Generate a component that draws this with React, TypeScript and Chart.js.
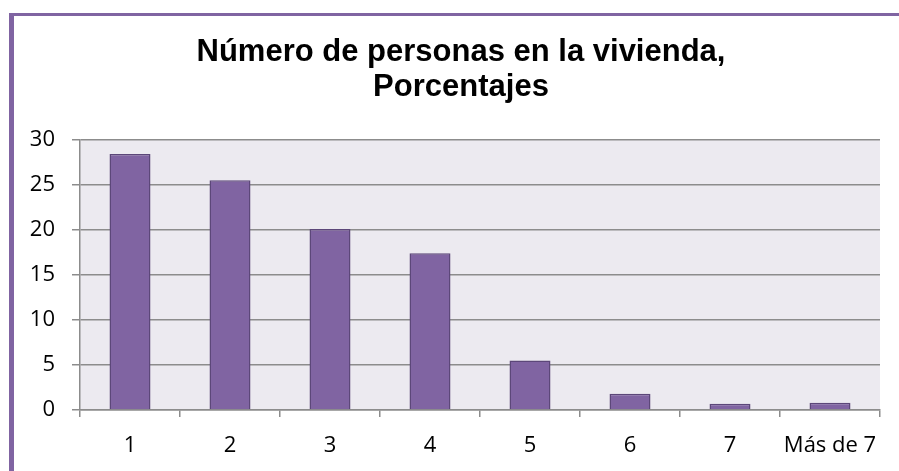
import React, { useEffect, useRef } from "react";
import { Chart, registerables } from "chart.js";

Chart.register(...registerables);

const categories: string[] = ["1", "2", "3", "4", "5", "6", "7", "Más de 7"];
const percentages: number[] = [28.4, 25.5, 20.1, 17.4, 5.5, 1.8, 0.7, 0.8];
const titleLines: string[] = ["Número de personas en la vivienda,", "Porcentajes"];
const yMin = 0;
const yMax = 30;
const yStep = 5;

const plotBg = {
  id: "plotBg",
  beforeDraw(chart: any) {
    const { ctx, chartArea } = chart;
    if (!chartArea) return;
    ctx.save();
    ctx.fillStyle = "#ECEAF0";
    ctx.fillRect(chartArea.left, chartArea.top, chartArea.right - chartArea.left, chartArea.bottom - chartArea.top);
    ctx.restore();
  },
};

export default function App() {
  const ref = useRef<HTMLCanvasElement | null>(null);

  useEffect(() => {
    if (!ref.current) return;
    const chart = new Chart(ref.current, {
      type: "bar",
      data: {
        labels: categories,
        datasets: [
          {
            data: percentages,
            backgroundColor: "#8064A2",
            borderColor: "#5C4779",
            borderWidth: 1.5,
            barPercentage: 0.41,
            categoryPercentage: 1,
            yAxisID: "y",
          },
        ],
      },
      options: {
        animation: false,
        responsive: false,
        layout: { padding: { left: 23, right: 0, top: 0, bottom: 0 } },
        plugins: {
          legend: { display: false },
          tooltip: { enabled: false },
          title: {
            display: true,
            text: titleLines,
            color: "#000000",
            font: { family: "'Liberation Sans', Arial, sans-serif", size: 31, weight: "bold", lineHeight: 1.129 },
            padding: { top: 35.1, bottom: 34.6 },
          },
        },
        scales: {
          x: {
            grid: {
              offset: true,
              drawOnChartArea: false,
              drawTicks: true,
              tickLength: 7,
              color: "#8C8C8C",
              lineWidth: 1.5,
            },
            border: { display: true, color: "#8C8C8C", width: 1.5 },
            ticks: {
              color: "#000000",
              font: { family: "'Open Sans', sans-serif", size: 22 },
              padding: 15.5,
              maxRotation: 0,
              autoSkip: false,
            },
            afterFit: (scale: any) => {
              scale.height = 61;
            },
          },
          y: {
            position: "left",
            min: yMin,
            max: yMax,
            grid: {
              drawTicks: true,
              tickLength: 8,
              color: "#8C8C8C",
              lineWidth: 1.5,
            },
            border: { display: true, color: "#8C8C8C", width: 1.5 },
            ticks: {
              stepSize: yStep,
              color: "#000000",
              font: { family: "'Open Sans', sans-serif", size: 22 },
              padding: 17,
            },
            afterFit: (scale: any) => {
              scale.width = 57;
            },
          },
          spacer: {
            type: "linear",
            position: "right",
            display: true,
            grid: { display: false, drawTicks: false },
            border: { display: false },
            ticks: { display: false },
            afterFit: (scale: any) => {
              scale.width = 19;
            },
          },
        },
      },
      plugins: [plotBg],
    });
    return () => chart.destroy();
  }, []);

  return (
    <div
      style={{
        position: "fixed",
        left: 0,
        top: 0,
        width: 899,
        height: 471,
        overflow: "hidden",
        background: "#ffffff",
      }}
    >
      <div
        style={{
          position: "absolute",
          left: 9,
          top: 13,
          width: 899,
          height: 471,
          borderLeft: "5px solid #8064A2",
          borderTop: "3px solid #8064A2",
        }}
      />
      <canvas
        ref={ref}
        width={899}
        height={471}
        style={{ position: "absolute", left: 0, top: 0, width: 899, height: 471 }}
      />
    </div>
  );
}
